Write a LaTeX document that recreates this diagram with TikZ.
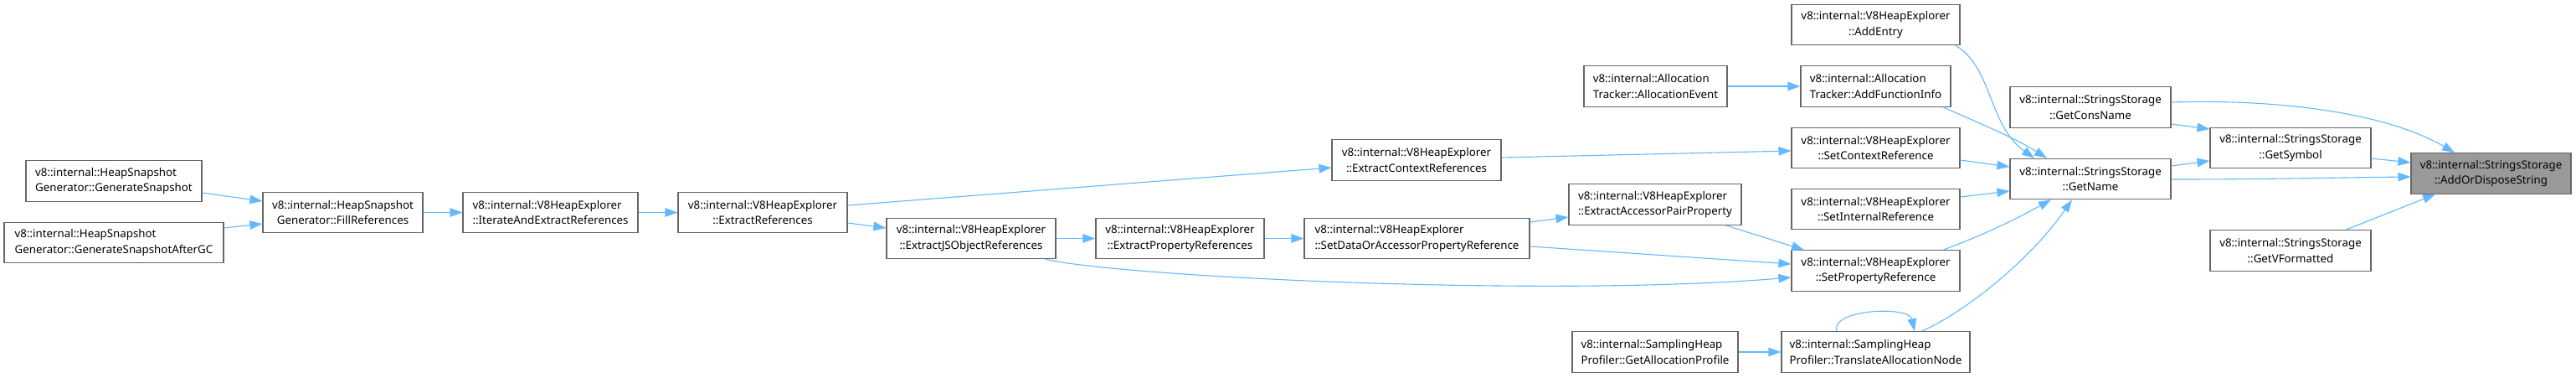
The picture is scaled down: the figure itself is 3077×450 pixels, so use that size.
\documentclass[tikz,border=0pt]{standalone}
\usepackage{fontspec}
\setmainfont{Noto Sans}
\usetikzlibrary{arrows.meta,calc}
\definecolor{edgeblue}{HTML}{63B8FF}
\definecolor{nodeborder}{HTML}{666666}
\definecolor{hlfill}{HTML}{999999}
\begin{document}
\begin{tikzpicture}[x=1pt,y=-1pt,
  fn/.style={draw=nodeborder, line width=1.1pt, fill=white, minimum height=48.5pt, inner sep=0pt, font=\fontsize{13.3}{18.7}\selectfont, text=black},
  fnl/.style={fn, align=left},
  fnc/.style={fn, align=center},
  edge/.style={draw=edgeblue, line width=1.1pt, -{Triangle[length=15pt,width=10.5pt]}},
]
\useasboundingbox (0,0) rectangle (3077,450);

\node[fnl, minimum width=210pt] (gs) at (136,216) {v8::internal::HeapSnapshot\\Generator::GenerateSnapshot};
\node[fnl, minimum width=262pt] (gsgc) at (136,289.5) {v8::internal::HeapSnapshot\\Generator::GenerateSnapshotAfterGC};
\node[fnc, minimum width=191pt] (fill) at (409.5,253.5) {v8::internal::HeapSnapshot\\Generator::FillReferences};
\node[fnl, minimum width=209pt] (iter) at (657.5,253.5) {v8::internal::V8HeapExplorer\\::IterateAndExtractReferences};
\node[fnc, minimum width=202pt] (extref) at (911,253.5) {v8::internal::V8HeapExplorer\\::ExtractReferences};
\node[fnc, minimum width=202pt] (jsobj) at (1160,284.5) {v8::internal::V8HeapExplorer\\::ExtractJSObjectReferences};
\node[fnc, minimum width=201pt] (propref) at (1409.5,284.5) {v8::internal::V8HeapExplorer\\::ExtractPropertyReferences};
\node[fnc, minimum width=202pt] (ctxref) at (1692,191) {v8::internal::V8HeapExplorer\\::ExtractContextReferences};
\node[fnl, minimum width=269pt] (setdata) at (1692.5,284.5) {v8::internal::V8HeapExplorer\\::SetDataOrAccessorPropertyReference};
\node[fnl, minimum width=206pt] (accpair) at (1977,244) {v8::internal::V8HeapExplorer\\::ExtractAccessorPairProperty};
\node[fnl, minimum width=171pt] (allocev) at (1977.5,103) {v8::internal::Allocation\\Tracker::AllocationEvent};
\node[fnl, minimum width=198pt] (getallocprof) at (1977,420) {v8::internal::SamplingHeap\\Profiler::GetAllocationProfile};
\node[fnc, minimum width=201pt] (addentry) at (2240.5,29.5) {v8::internal::V8HeapExplorer\\::AddEntry};
\node[fnl, minimum width=179pt] (addfunc) at (2240.5,103) {v8::internal::Allocation\\Tracker::AddFunctionInfo};
\node[fnc, minimum width=201pt] (setctx) at (2240.5,176.5) {v8::internal::V8HeapExplorer\\::SetContextReference};
\node[fnc, minimum width=201pt] (setint) at (2240.5,249.5) {v8::internal::V8HeapExplorer\\::SetInternalReference};
\node[fnc, minimum width=201pt] (setprop) at (2240.5,323) {v8::internal::V8HeapExplorer\\::SetPropertyReference};
\node[fnl, minimum width=225pt] (translate) at (2240.5,420) {v8::internal::SamplingHeap\\Profiler::TranslateAllocationNode};
\node[fnc, minimum width=192pt] (consname) at (2497,128) {v8::internal::StringsStorage\\::GetConsName};
\node[fnc, minimum width=192pt] (getname) at (2497,213.5) {v8::internal::StringsStorage\\::GetName};
\node[fnc, minimum width=192pt] (getsym) at (2736,176.5) {v8::internal::StringsStorage\\::GetSymbol};
\node[fnc, minimum width=192pt] (getvf) at (2736,299) {v8::internal::StringsStorage\\::GetVFormatted};
\node[fnc, minimum width=191pt, fill=hlfill] (aods) at (2975.5,207) {v8::internal::StringsStorage\\::AddOrDisposeString};

% edges
\draw[edge] ($(gs.east)+(0,14)$) -- ($(fill.west)+(0,-13.5)$);
\draw[edge] ($(gsgc.east)+(0,-17.5)$) -- ($(fill.west)+(0,13.5)$);
\draw[edge] (fill.east) -- (iter.west);
\draw[edge] (iter.east) -- (extref.west);
\draw[edge] ($(extref.east)+(0,-8.5)$) -- ($(ctxref.west)+(0,9)$);
\draw[edge] ($(extref.east)+(0,12.5)$) -- ($(jsobj.west)+(0,-12.5)$);
\draw[edge] (jsobj.east) -- (propref.west);
\draw[edge] (propref.east) -- (setdata.west);
\draw[edge] ($(jsobj.south)+(89,0)$) .. controls +(91,21) and +(-290,24) .. ($(setprop.west)+(0,8)$);
\draw[edge] ($(setdata.east)+(0,-19.5)$) -- ($(accpair.west)+(0,15)$);
\draw[edge] ($(setdata.east)+(0,9.5)$) -- ($(setprop.west)+(0,-8)$);
\draw[edge] ($(accpair.south)+(84,0)$) -- ($(setprop.north)+(-85.5,0)$);
\draw[edge] ($(ctxref.east)+(0,-3)$) -- ($(setctx.west)+(0,3.5)$);
\draw[edge] (allocev.east) -- (addfunc.west);
\draw[edge] (getallocprof.east) -- (translate.west);
\draw[edge] ($(translate.north)+(-46.5,0)$) .. controls +(-9,-26) and +(-7,-31) .. ($(translate.north)+(46.5,0)$);
\draw[edge] ($(addentry.south)+(95.5,0)$) .. controls +(44,26) and +(-55,-39) .. ($(getname.north)+(-67,0)$);
\draw[edge] ($(addfunc.south)+(80.5,0)$) .. controls +(45,20) and +(-40,-25) .. ($(getname.north)+(-52,0)$);
\draw[edge] ($(setctx.east)+(0,14.5)$) -- ($(getname.west)+(0,-14.5)$);
\draw[edge] ($(setint.east)+(0,-14.5)$) -- ($(getname.west)+(0,14.5)$);
\draw[edge] ($(setprop.north)+(80.5,0)$) .. controls +(49,-18) and +(-40,22) .. ($(getname.south)+(-47,0)$);
\draw[edge] ($(translate.north)+(54.5,0)$) .. controls +(50,-21) and +(-50,72) .. ($(getname.south)+(-22,0)$);
\draw[edge] ($(consname.east)+(0,20)$) -- ($(getsym.west)+(0,-22.5)$);
\draw[edge] ($(consname.east)+(0,-6)$) .. controls +(127,-4) and +(-82,-48) .. ($(aods.north)+(-43.5,0)$);
\draw[edge] ($(getname.east)+(0,-15.5)$) -- ($(getsym.west)+(0,15.5)$);
\draw[edge] ($(getname.east)+(0,0.5)$) .. controls +(120,0) and +(-100,1) .. ($(aods.west)+(0,4)$);
\draw[edge] ($(getsym.east)+(0,12.5)$) -- ($(aods.west)+(0,-13)$);
\draw[edge] ($(getvf.north)+(66,0)$) -- ($(aods.south)+(-66.5,0)$);
\end{tikzpicture}
\end{document}
